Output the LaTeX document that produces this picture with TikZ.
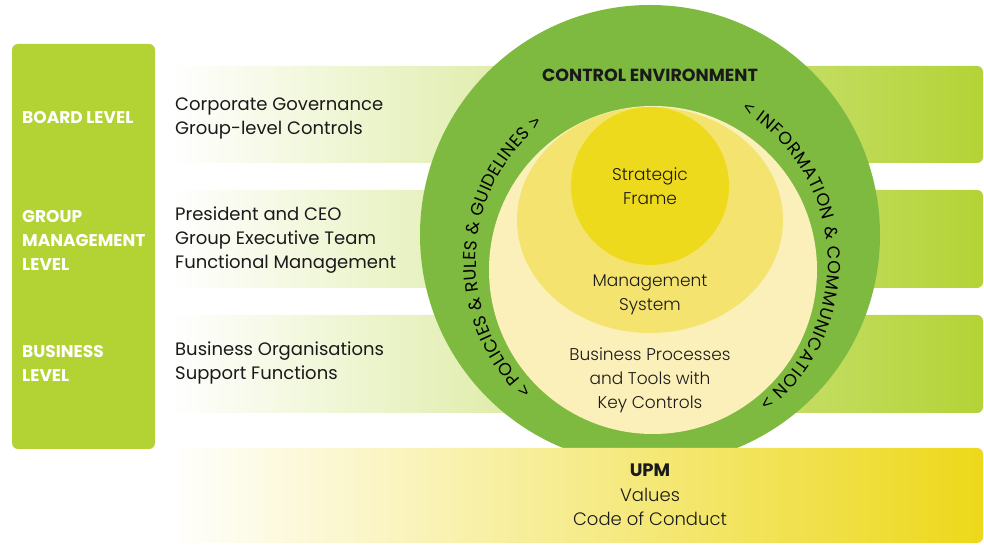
\documentclass[tikz,border=0pt]{standalone}
\usepackage{fontspec}
\setmainfont{Poppins}
\newfontfamily\lightfont{Poppins Light}
\newfontfamily\chevfont{Liberation Sans}
\usetikzlibrary{calc,decorations.text}

\definecolor{lime}{HTML}{B3D335}
\definecolor{ringgreen}{HTML}{7FBA40}
\definecolor{paleyellow}{HTML}{FBF0B9}
\definecolor{midyellow}{HTML}{F4E46F}
\definecolor{deepyellow}{HTML}{EEDA1D}
\definecolor{bandyellow}{HTML}{EDD81A}
\definecolor{bandmid}{HTML}{F7EBA3}
\definecolor{ink}{HTML}{1A1A1A}

\tikzset{
  levelband/.style={left color=white, right color=lime, rounded corners=6},
  levellabel/.style={anchor=west, align=left, text=white,
    font=\bfseries\fontsize{17}{24}\selectfont, inner sep=0pt},
  bandtext/.style={anchor=west, align=left, text=ink,
    font=\fontsize{18}{24}\selectfont, inner sep=0pt},
  circletext/.style={align=center, text=ink,
    font=\lightfont\fontsize{17}{24}\selectfont, inner sep=0pt},
  arctext/.style={decorate, decoration={text along path,
    text align={fit to path}, raise=0pt}}
}

\begin{document}
\begin{tikzpicture}[x=1pt,y=1pt]
\useasboundingbox (0,0) rectangle (984,545);

% horizontal level bands
\shade[levelband] (170,382) rectangle (983,479);
\shade[levelband] (170,257) rectangle (983,355);
\shade[levelband] (170,132) rectangle (983,230);

% nested circles of the control framework
\fill[ringgreen] (650,310) circle[radius=230];
\fill[paleyellow] (653,275) circle[radius=164];
\fill[midyellow] (650,325) ellipse[x radius=133, y radius=113];
\fill[deepyellow] (650,359) circle[radius=79];

% texts running round the ring
\coordinate (ctr) at (652,283);
\path[arctext, decoration={text={|\fontsize{17.5}{17.5}\selectfont|{\chevfont <} POLICIES {\&} RULES {\&} GUIDELINES {\chevfont >}}}]
  ($(ctr)+(227:176)$) arc[start angle=227, end angle=128.5, radius=176];
\path[arctext, decoration={text={|\fontsize{17.5}{17.5}\selectfont|{\chevfont <} INFORMATION {\&} COMMUNICATION {\chevfont >}}}]
  ($(ctr)+(59.5:176)$) arc[start angle=59.5, end angle=-52.5, radius=176];

\node[font=\bfseries\fontsize{17.5}{20}\selectfont, text=ink] (env) at (650,470) {CONTROL ENVIRONMENT};
\node[circletext] (frame) at (650,358.5) {Strategic\\Frame};
\node[circletext] (mgmt) at (650,250.5) {Management\\System};
\node[circletext] (proc) at (650,165) {Business Processes\\and Tools with\\Key Controls};

% values band at the foot
\shade[left color=white, middle color=bandmid, right color=bandyellow, rounded corners=6]
  (168,2) rectangle (983,97);
\node[circletext, font=\lightfont\fontsize{18}{24.5}\selectfont] (upm) at (650,50)
  {{\normalfont\bfseries UPM}\\Values\\Code of Conduct};

% level column
\fill[lime, rounded corners=6] (12,96) rectangle (155,501);
\node[levellabel] (board) at (22,427) {BOARD LEVEL};
\node[levellabel] (group) at (22,305) {GROUP\\MANAGEMENT\\LEVEL};
\node[levellabel] (business) at (22,182) {BUSINESS\\LEVEL};

\node[bandtext] (boardtxt) at (175,427) {Corporate Governance\\Group-level Controls};
\node[bandtext] (grouptxt) at (175,305) {President and CEO\\Group Executive Team\\Functional Management};
\node[bandtext] (businesstxt) at (175,182) {Business Organisations\\Support Functions};
\end{tikzpicture}
\end{document}
